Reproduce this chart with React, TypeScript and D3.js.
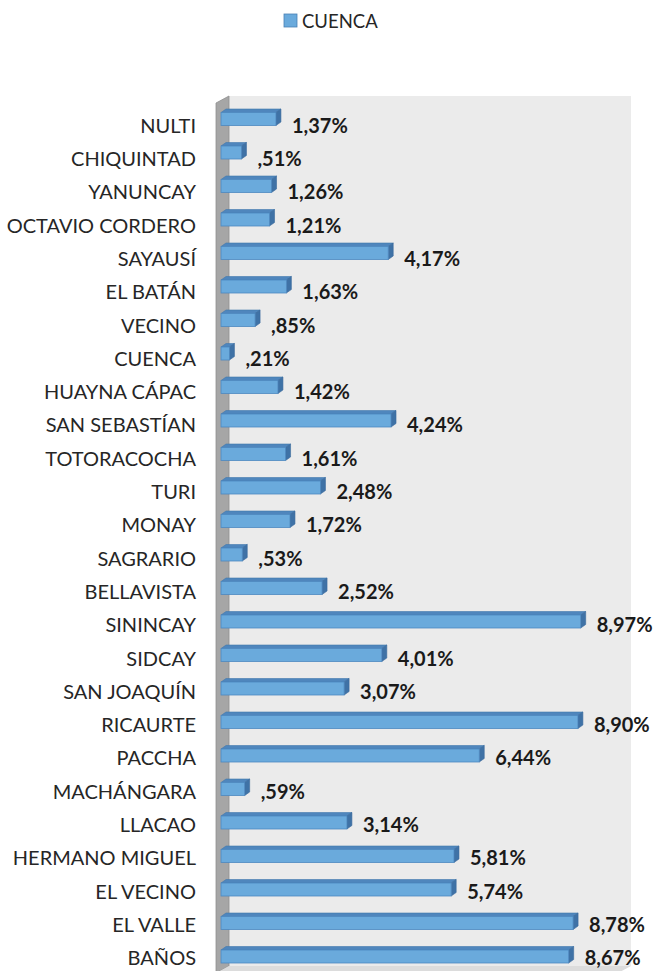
import * as d3 from "d3";

const CATEGORIES = [
  "NULTI", "CHIQUINTAD", "YANUNCAY", "OCTAVIO CORDERO", "SAYAUSÍ", "EL BATÁN",
  "VECINO", "CUENCA", "HUAYNA CÁPAC", "SAN SEBASTÍAN", "TOTORACOCHA", "TURI",
  "MONAY", "SAGRARIO", "BELLAVISTA", "SININCAY", "SIDCAY", "SAN JOAQUÍN",
  "RICAURTE", "PACCHA", "MACHÁNGARA", "LLACAO", "HERMANO MIGUEL", "EL VECINO",
  "EL VALLE", "BAÑOS",
];
const VALUES = [
  1.37, 0.51, 1.26, 1.21, 4.17, 1.63, 0.85, 0.21, 1.42, 4.24, 1.61, 2.48,
  1.72, 0.53, 2.52, 8.97, 4.01, 3.07, 8.9, 6.44, 0.59, 3.14, 5.81, 5.74,
  8.78, 8.67,
];
const SERIES = "CUENCA";

const W = 657;
const H = 971;
const FONT = "Lato, 'Open Sans', sans-serif";
const DX = 5; // oblique depth of each bar
const DY = 3.5;
const HALF = 6.5;

const fmt = (v: number) =>
  d3.format(".2f")(v).replace(/^0/, "").replace(".", ",") + "%";

export default function App() {
  const x = d3.scaleLinear().domain([0, 10]).range([221, 622]);
  const barY = d3.scalePoint<string>().domain(CATEGORIES).range([119, 956.5]);
  const textY = d3.scalePoint<string>().domain(CATEGORIES).range([125.5, 958]);
  const x0 = x(0);

  return (
    <svg
      width={W}
      height={H}
      viewBox={`0 0 ${W} ${H}`}
      style={{ position: "absolute", left: 0, top: 0, background: "#fff" }}
      fontFamily={FONT}
    >
      {/* legend */}
      <rect x={284} y={14} width={13} height={13} fill="#6aaadc" stroke="#4a80b4" strokeWidth={0.8} />
      <text x={302} y={21} dy="0.36em" fontSize={18.5} fill="#262626">{SERIES}</text>

      {/* walls */}
      <rect x={229} y={96} width={402} height={870} fill="#ebebeb" />
      <polygon points="216,103 229,96 229,966 216,973" fill="#a6a6a6" stroke="#8f8f8f" strokeWidth={0.8} />
      <polygon points="216,973 229,966 631,966 618,973" fill="#dcdcdc" />

      {/* category labels */}
      <g fontSize={20} fill="#262626" textAnchor="end">
        {CATEGORIES.map((c) => (
          <text key={c} x={196} y={textY(c)} dy="0.36em">{c}</text>
        ))}
      </g>

      {/* bars */}
      {CATEGORIES.map((c, i) => {
        const v = VALUES[i];
        const cy = barY(c) as number;
        const xv = x(v);
        const top = cy - HALF;
        const bot = cy + HALF;
        return (
          <g key={c}>
            <polygon
              points={`${x0},${top} ${xv},${top} ${xv + DX},${top - DY} ${x0 + DX},${top - DY}`}
              fill="#4f86bd"
              stroke="#4278ad"
              strokeWidth={0.6}
            />
            <polygon
              points={`${xv},${top} ${xv + DX},${top - DY} ${xv + DX},${bot - DY} ${xv},${bot}`}
              fill="#3f72a6"
              stroke="#3a6a9c"
              strokeWidth={0.6}
            />
            <rect
              x={x0}
              y={top}
              width={xv - x0}
              height={bot - top}
              fill="#6aaadc"
              stroke="#4d88c0"
              strokeWidth={0.8}
            />
          </g>
        );
      })}

      {/* value labels */}
      <g fontSize={20} fontWeight={700} fill="#1a1a1a">
        {CATEGORIES.map((c, i) => (
          <text key={c} x={x(VALUES[i]) + DX + 11} y={textY(c)} dy="0.36em">
            {fmt(VALUES[i])}
          </text>
        ))}
      </g>
    </svg>
  );
}
